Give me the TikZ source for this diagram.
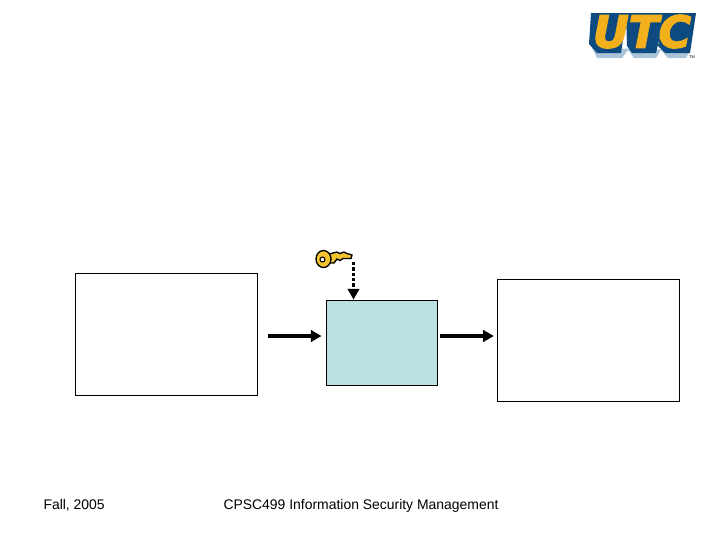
\documentclass[tikz,border=0pt]{standalone}
\usepackage{fontspec}
\setmainfont{Liberation Sans}
\newfontfamily\logofont[BoldItalicFont={DejaVu Sans Bold Oblique}]{DejaVu Sans}
\usetikzlibrary{arrows.meta}
\definecolor{boxfill}{RGB}{187,223,227}
\definecolor{logogold}{RGB}{243,176,28}
\definecolor{logoblue}{RGB}{12,74,128}
\definecolor{logoshade}{RGB}{170,195,215}
\definecolor{keygold}{RGB}{244,196,48}
\tikzset{every picture/.style={line width=0.75pt}}
\tikzset{
  plainbox/.style={draw=black,fill=white,line width=0.7pt,minimum width=136.5pt,minimum height=91.5pt,inner sep=0pt},
  cipherbox/.style={draw=black,fill=boxfill,line width=0.7pt,minimum width=83.25pt,minimum height=63.75pt,inner sep=0pt},
  flowarrow/.style={draw=black,line width=2.5pt,-{Triangle[length=8pt,width=8.5pt]}},
  keyarrow/.style={draw=black,line width=2.5pt,dash pattern=on 2.4pt off 1.6pt,-{Triangle[length=8pt,width=8.5pt]}},
  footer/.style={anchor=base west,inner sep=0pt,font=\fontsize{10.45pt}{12pt}\selectfont},
}
\begin{document}
\begin{tikzpicture}[x=0.75pt,y=0.75pt,yscale=-1,xscale=1]
\useasboundingbox (0,0) rectangle (720,540);

%Boxes
\node [plainbox] (plainL) at (166,334) {};
\node [cipherbox] (cipherM) at (381.5,342.5) {};
\node [plainbox] (plainR) at (588,340) {};

%Free ends of the arrows
\coordinate (inS) at (268,336);
\coordinate (outS) at (440,336);
\coordinate (keyS) at (353.5,262);

\draw [flowarrow,shorten >=3pt] (inS) -- (inS -| cipherM.west);
\draw [flowarrow,shorten >=2pt] (outS) -- (outS -| plainR.west);
\draw [keyarrow] (keyS) -- (keyS |- cipherM.north);

%Key
\draw [fill=keygold,line width=1pt] (329,254) -- (337,252) -- (340,253.5) -- (344,252) -- (347,253.5) -- (352,255) -- (351,258.5) -- (343,258.5) -- (340,260.5) -- (337,259) -- (334,263) -- (329,263) -- cycle;
\draw [fill=keygold,line width=1pt] (323.5,259) ellipse (7.5 and 8.5);
\draw [fill=white,line width=0.8pt] (322.5,259.5) ellipse (2.5 and 2.5);

%Logo
\fill [logoshade] (592,48) -- (597,58) -- (622,58) -- (628,50) -- (634,58) -- (656,58) -- (661,50) -- (668,58) -- (686,58) -- (690,50) -- cycle;
\fill [logoblue] (591,13) -- (627,13) -- (621,53) -- (597,53) -- (589,44) -- cycle;
\fill [logoblue] (626,13) -- (665,13) -- (656,53) -- (632,53) -- (627,46) -- cycle;
\fill [logoblue] (664,13) -- (696,13) -- (690,53) -- (665,53) -- (658,46) -- cycle;
\node [anchor=center,inner sep=0pt,text=logogold] (logoText) at (642,31.5) {\special{pdf:code 2 Tr 1.1 w 0.95 0.69 0.11 RG}\logofont\fontsize{33pt}{33pt}\selectfont\bfseries\itshape UTC\special{pdf:code 0 Tr}};
\node [anchor=center,inner sep=0pt,font=\fontsize{3pt}{3pt}\selectfont] (logoMark) at (692,57) {TM};

%Footer
\node [footer] (dateL) at (43,509) {Fall, 2005};
\node [footer] (titleL) at (223,509) {CPSC499 Information Security Management};
\end{tikzpicture}
\end{document}
